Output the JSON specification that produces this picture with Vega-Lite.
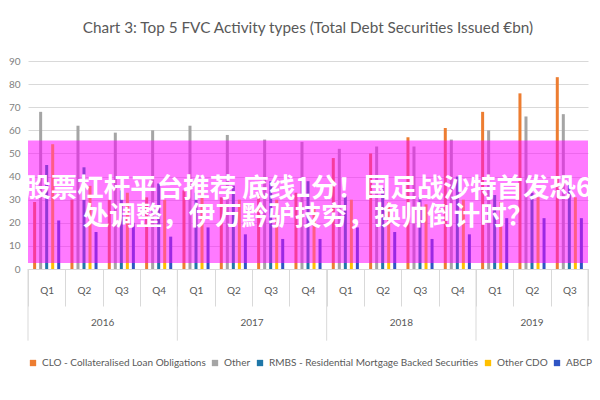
{
  "$schema": "https://vega.github.io/schema/vega-lite/v6.json",
  "width": 560,
  "height": 208,
  "padding": {"left": 8, "top": 20, "right": 5, "bottom": 5},
  "background": "white",
  "config": {
    "view": {"stroke": null},
    "font": "Lato",
    "axis": {"labelFont": "Lato"},
    "axisY": {"tickCount": 10},
    "legend": {"labelFont": "Lato"}
  },
  "title": {
    "text": "Chart 3: Top 5 FVC Activity types (Total Debt Securities Issued €bn)",
    "fontSize": 15.3,
    "fontWeight": "normal",
    "color": "#595959",
    "offset": 20,
    "anchor": "middle"
  },
  "datasets": {
    "fvc": [
      {"period": "2016 Q1", "year": "2016", "quarter": "Q1", "series": "CLO - Collateralised Loan Obligations", "value": 29},
      {"period": "2016 Q1", "year": "2016", "quarter": "Q1", "series": "Other", "value": 68},
      {"period": "2016 Q1", "year": "2016", "quarter": "Q1", "series": "RMBS - Residential Mortgage Backed Securities", "value": 45},
      {"period": "2016 Q1", "year": "2016", "quarter": "Q1", "series": "Other CDO", "value": 54},
      {"period": "2016 Q1", "year": "2016", "quarter": "Q1", "series": "ABCP", "value": 21},
      {"period": "2016 Q2", "year": "2016", "quarter": "Q2", "series": "CLO - Collateralised Loan Obligations", "value": 30},
      {"period": "2016 Q2", "year": "2016", "quarter": "Q2", "series": "Other", "value": 62},
      {"period": "2016 Q2", "year": "2016", "quarter": "Q2", "series": "RMBS - Residential Mortgage Backed Securities", "value": 44},
      {"period": "2016 Q2", "year": "2016", "quarter": "Q2", "series": "Other CDO", "value": 36},
      {"period": "2016 Q2", "year": "2016", "quarter": "Q2", "series": "ABCP", "value": 16},
      {"period": "2016 Q3", "year": "2016", "quarter": "Q3", "series": "CLO - Collateralised Loan Obligations", "value": 30},
      {"period": "2016 Q3", "year": "2016", "quarter": "Q3", "series": "Other", "value": 59},
      {"period": "2016 Q3", "year": "2016", "quarter": "Q3", "series": "RMBS - Residential Mortgage Backed Securities", "value": 34},
      {"period": "2016 Q3", "year": "2016", "quarter": "Q3", "series": "Other CDO", "value": 33},
      {"period": "2016 Q3", "year": "2016", "quarter": "Q3", "series": "ABCP", "value": 20},
      {"period": "2016 Q4", "year": "2016", "quarter": "Q4", "series": "CLO - Collateralised Loan Obligations", "value": 31},
      {"period": "2016 Q4", "year": "2016", "quarter": "Q4", "series": "Other", "value": 60},
      {"period": "2016 Q4", "year": "2016", "quarter": "Q4", "series": "RMBS - Residential Mortgage Backed Securities", "value": 37},
      {"period": "2016 Q4", "year": "2016", "quarter": "Q4", "series": "Other CDO", "value": 30},
      {"period": "2016 Q4", "year": "2016", "quarter": "Q4", "series": "ABCP", "value": 14},
      {"period": "2017 Q1", "year": "2017", "quarter": "Q1", "series": "CLO - Collateralised Loan Obligations", "value": 34},
      {"period": "2017 Q1", "year": "2017", "quarter": "Q1", "series": "Other", "value": 62},
      {"period": "2017 Q1", "year": "2017", "quarter": "Q1", "series": "RMBS - Residential Mortgage Backed Securities", "value": 33},
      {"period": "2017 Q1", "year": "2017", "quarter": "Q1", "series": "Other CDO", "value": 36},
      {"period": "2017 Q1", "year": "2017", "quarter": "Q1", "series": "ABCP", "value": 18},
      {"period": "2017 Q2", "year": "2017", "quarter": "Q2", "series": "CLO - Collateralised Loan Obligations", "value": 31},
      {"period": "2017 Q2", "year": "2017", "quarter": "Q2", "series": "Other", "value": 58},
      {"period": "2017 Q2", "year": "2017", "quarter": "Q2", "series": "RMBS - Residential Mortgage Backed Securities", "value": 36},
      {"period": "2017 Q2", "year": "2017", "quarter": "Q2", "series": "Other CDO", "value": 30},
      {"period": "2017 Q2", "year": "2017", "quarter": "Q2", "series": "ABCP", "value": 15},
      {"period": "2017 Q3", "year": "2017", "quarter": "Q3", "series": "CLO - Collateralised Loan Obligations", "value": 32},
      {"period": "2017 Q3", "year": "2017", "quarter": "Q3", "series": "Other", "value": 56},
      {"period": "2017 Q3", "year": "2017", "quarter": "Q3", "series": "RMBS - Residential Mortgage Backed Securities", "value": 38},
      {"period": "2017 Q3", "year": "2017", "quarter": "Q3", "series": "Other CDO", "value": 30},
      {"period": "2017 Q3", "year": "2017", "quarter": "Q3", "series": "ABCP", "value": 13},
      {"period": "2017 Q4", "year": "2017", "quarter": "Q4", "series": "CLO - Collateralised Loan Obligations", "value": 33},
      {"period": "2017 Q4", "year": "2017", "quarter": "Q4", "series": "Other", "value": 55},
      {"period": "2017 Q4", "year": "2017", "quarter": "Q4", "series": "RMBS - Residential Mortgage Backed Securities", "value": 38},
      {"period": "2017 Q4", "year": "2017", "quarter": "Q4", "series": "Other CDO", "value": 27},
      {"period": "2017 Q4", "year": "2017", "quarter": "Q4", "series": "ABCP", "value": 13},
      {"period": "2018 Q1", "year": "2018", "quarter": "Q1", "series": "CLO - Collateralised Loan Obligations", "value": 48},
      {"period": "2018 Q1", "year": "2018", "quarter": "Q1", "series": "Other", "value": 52},
      {"period": "2018 Q1", "year": "2018", "quarter": "Q1", "series": "RMBS - Residential Mortgage Backed Securities", "value": 32},
      {"period": "2018 Q1", "year": "2018", "quarter": "Q1", "series": "Other CDO", "value": 30},
      {"period": "2018 Q1", "year": "2018", "quarter": "Q1", "series": "ABCP", "value": 18},
      {"period": "2018 Q2", "year": "2018", "quarter": "Q2", "series": "CLO - Collateralised Loan Obligations", "value": 50},
      {"period": "2018 Q2", "year": "2018", "quarter": "Q2", "series": "Other", "value": 53},
      {"period": "2018 Q2", "year": "2018", "quarter": "Q2", "series": "RMBS - Residential Mortgage Backed Securities", "value": 35},
      {"period": "2018 Q2", "year": "2018", "quarter": "Q2", "series": "Other CDO", "value": 29},
      {"period": "2018 Q2", "year": "2018", "quarter": "Q2", "series": "ABCP", "value": 16},
      {"period": "2018 Q3", "year": "2018", "quarter": "Q3", "series": "CLO - Collateralised Loan Obligations", "value": 57},
      {"period": "2018 Q3", "year": "2018", "quarter": "Q3", "series": "Other", "value": 53},
      {"period": "2018 Q3", "year": "2018", "quarter": "Q3", "series": "RMBS - Residential Mortgage Backed Securities", "value": 31},
      {"period": "2018 Q3", "year": "2018", "quarter": "Q3", "series": "Other CDO", "value": 28},
      {"period": "2018 Q3", "year": "2018", "quarter": "Q3", "series": "ABCP", "value": 13},
      {"period": "2018 Q4", "year": "2018", "quarter": "Q4", "series": "CLO - Collateralised Loan Obligations", "value": 61},
      {"period": "2018 Q4", "year": "2018", "quarter": "Q4", "series": "Other", "value": 56},
      {"period": "2018 Q4", "year": "2018", "quarter": "Q4", "series": "RMBS - Residential Mortgage Backed Securities", "value": 40},
      {"period": "2018 Q4", "year": "2018", "quarter": "Q4", "series": "Other CDO", "value": 30},
      {"period": "2018 Q4", "year": "2018", "quarter": "Q4", "series": "ABCP", "value": 15},
      {"period": "2019 Q1", "year": "2019", "quarter": "Q1", "series": "CLO - Collateralised Loan Obligations", "value": 68},
      {"period": "2019 Q1", "year": "2019", "quarter": "Q1", "series": "Other", "value": 60},
      {"period": "2019 Q1", "year": "2019", "quarter": "Q1", "series": "RMBS - Residential Mortgage Backed Securities", "value": 32},
      {"period": "2019 Q1", "year": "2019", "quarter": "Q1", "series": "Other CDO", "value": 29},
      {"period": "2019 Q1", "year": "2019", "quarter": "Q1", "series": "ABCP", "value": 22},
      {"period": "2019 Q2", "year": "2019", "quarter": "Q2", "series": "CLO - Collateralised Loan Obligations", "value": 76},
      {"period": "2019 Q2", "year": "2019", "quarter": "Q2", "series": "Other", "value": 66},
      {"period": "2019 Q2", "year": "2019", "quarter": "Q2", "series": "RMBS - Residential Mortgage Backed Securities", "value": 33},
      {"period": "2019 Q2", "year": "2019", "quarter": "Q2", "series": "Other CDO", "value": 31},
      {"period": "2019 Q2", "year": "2019", "quarter": "Q2", "series": "ABCP", "value": 22},
      {"period": "2019 Q3", "year": "2019", "quarter": "Q3", "series": "CLO - Collateralised Loan Obligations", "value": 83},
      {"period": "2019 Q3", "year": "2019", "quarter": "Q3", "series": "Other", "value": 67},
      {"period": "2019 Q3", "year": "2019", "quarter": "Q3", "series": "RMBS - Residential Mortgage Backed Securities", "value": 37},
      {"period": "2019 Q3", "year": "2019", "quarter": "Q3", "series": "Other CDO", "value": 31},
      {"period": "2019 Q3", "year": "2019", "quarter": "Q3", "series": "ABCP", "value": 22}
    ],
    "banner": [
      {"caption": "股票杠杆平台推荐 底线1分！国足战沙特首发恐6\n处调整，伊万黔驴技穷，换帅倒计时？"}
    ]
  },
  "data": {"name": "fvc"},
  "layer": [
    {
      "mark": {"type": "bar"},
      "encoding": {
        "x": {
          "field": "period",
          "type": "nominal",
          "sort": null,
          "scale": {"paddingInner": 0, "paddingOuter": 0},
          "axis": {
            "title": null,
            "labelExpr": "slice(datum.label, 5)",
            "labelAngle": 0,
            "tickBand": "extent",
            "tickSize": 37,
            "tickColor": "#d9d9d9",
            "domainColor": "#d9d9d9",
            "labelPadding": -21,
            "labelFontSize": 10,
            "labelColor": "#595959"
          }
        },
        "xOffset": {
          "field": "series",
          "type": "nominal",
          "sort": ["CLO - Collateralised Loan Obligations", "Other", "RMBS - Residential Mortgage Backed Securities", "Other CDO", "ABCP"],
          "scale": {"paddingInner": 0.5, "paddingOuter": 0.85}
        },
        "y": {
          "field": "value",
          "type": "quantitative",
          "scale": {"domain": [0, 90], "nice": false},
          "axis": {
            "title": null,
            "values": [0, 10, 20, 30, 40, 50, 60, 70, 80, 90],
            "tickCount": 10,
            "labelOverlap": false,
            "grid": true,
            "gridColor": "#d9d9d9",
            "domain": false,
            "ticks": false,
            "labelPadding": 8,
            "labelFontSize": 10,
            "labelColor": "#7f7f7f"
          }
        },
        "color": {
          "field": "series",
          "type": "nominal",
          "scale": {
            "domain": ["CLO - Collateralised Loan Obligations", "Other", "RMBS - Residential Mortgage Backed Securities", "Other CDO", "ABCP"],
            "range": ["#ED7D31", "#A5A5A5", "#1F77A8", "#FFC000", "#2F55C4"]
          },
          "legend": {
            "title": null,
            "orient": "bottom",
            "direction": "horizontal",
            "symbolType": "square",
            "symbolSize": 40,
            "labelFontSize": 10,
            "labelColor": "#595959",
            "labelLimit": 400,
            "columnPadding": 4,
            "offset": 51
          }
        }
      }
    },
    {
      "transform": [{"filter": "datum.quarter == 'Q1' && datum.series == 'ABCP'"}],
      "mark": {"type": "rule", "color": "#d9d9d9"},
      "encoding": {
        "x": {"field": "period", "type": "nominal", "sort": null, "bandPosition": 0},
        "y": {"datum": 0},
        "y2": {"datum": -31}
      }
    },
    {
      "transform": [{"filter": "datum.period == '2019 Q3' && datum.series == 'ABCP'"}],
      "mark": {"type": "rule", "color": "#d9d9d9"},
      "encoding": {
        "x": {"field": "period", "type": "nominal", "sort": null, "bandPosition": 1},
        "y": {"datum": 0},
        "y2": {"datum": -31}
      }
    },
    {
      "transform": [{"filter": "datum.quarter == 'Q2' && datum.series == 'ABCP' && datum.year != '2019'"}],
      "mark": {"type": "text", "fontSize": 10, "color": "#595959", "baseline": "middle"},
      "encoding": {
        "x": {"field": "period", "type": "nominal", "sort": null, "bandPosition": 1},
        "y": {"datum": -23.4},
        "text": {"field": "year"}
      }
    },
    {
      "transform": [{"filter": "datum.quarter == 'Q2' && datum.series == 'ABCP' && datum.year == '2019'"}],
      "mark": {"type": "text", "fontSize": 10, "color": "#595959", "baseline": "middle"},
      "encoding": {
        "x": {"field": "period", "type": "nominal", "sort": null, "bandPosition": 0.5},
        "y": {"datum": -23.4},
        "text": {"field": "year"}
      }
    },
    {
      "data": {"name": "banner"},
      "mark": {"type": "rect", "color": "#ff00ff", "opacity": 0.52},
      "encoding": {
        "y": {"datum": 2.6},
        "y2": {"datum": 55.6}
      }
    },
    {
      "data": {"name": "banner"},
      "mark": {
        "type": "text",
        "font": "Noto Sans CJK SC",
        "fontWeight": "bold",
        "fontSize": 26.5,
        "color": "white",
        "lineBreak": "\n",
        "lineHeight": 28,
        "baseline": "middle",
        "align": "center"
      },
      "encoding": {
        "y": {"datum": 34.8},
        "text": {"field": "caption"}
      }
    }
  ]
}
